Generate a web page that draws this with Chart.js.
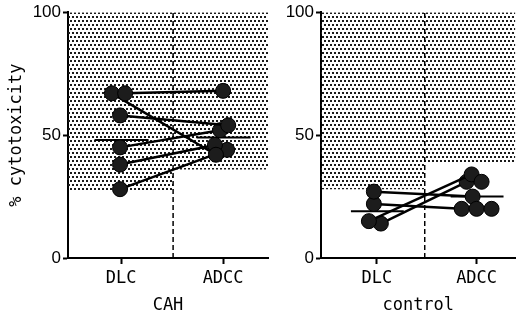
<!DOCTYPE html>
<html><head><meta charset="utf-8">
<script src="https://cdn.jsdelivr.net/npm/chart.js@4.4.0/dist/chart.umd.min.js"></script>
<style>
body{margin:0;background:#fff;width:524px;height:323px;overflow:hidden;position:relative}
.panel{position:absolute;top:0;height:323px}
#p1{left:0;width:278px}
#p2{left:276px;width:248px}
</style></head><body>
<div class="panel" id="p1"><canvas id="cah"></canvas></div>
<div class="panel" id="p2"><canvas id="ctrl"></canvas></div>
<script>
const groups = ['DLC', 'ADCC'];
const yTicks = [0, 50, 100];

// CAH patients, DLC -> ADCC pairs
const cahDLC  = [67, 67, 58, 45, 38, 28];
const cahADCC = [68, 42, 54, 52, 46, 44];
const cahDLCx  = [1.04, 0.91, 0.99, 0.99, 0.99, 0.99];
const cahADCCx = [2.0, 1.93, 2.05, 1.97, 1.92, 2.04];
const cahMean  = [48, 49];
const cahShade = [27, 36];

// controls
const ctrlDLC  = [27, 22, 15, 14];
const ctrlADCC = [25, 20, 34, 31];
const ctrlDLCx  = [0.97, 0.97, 0.92, 1.04];
const ctrlADCCx = [1.96, 1.85, 1.95, 1.9];
const ctrlExtra  = [31, 20, 20];
const ctrlExtraX = [2.05, 2.0, 2.15];
const ctrlMean  = [19, 25];
const ctrlShade = [28, 39];

// stipple pattern
const tile = document.createElement('canvas');
tile.width = 4; tile.height = 8;
const tc = tile.getContext('2d');
tc.fillStyle = '#1a1a1a';
tc.fillRect(0, 0, 2, 2);
tc.fillRect(2, 4, 2, 2);
const stipple = tc.createPattern(tile, 'repeat');

const monoFont = {family: 'DejaVu Sans Mono', size: 17};
const numFont = {family: 'Liberation Sans', size: 17};

function makeChart(id, o) {
    const sets = [];
    sets.push({
        type: 'line', order: 10,
        data: [{x: o.xmin, y: o.shade[0]}, {x: o.div, y: o.shade[0]}, {x: o.div, y: o.shade[1]}, {x: o.xmax, y: o.shade[1]}],
        fill: 'end', backgroundColor: stipple, borderWidth: 0, pointRadius: 0
    });
    sets.push({
        type: 'line', order: 9,
        data: [{x: o.div, y: 0}, {x: o.div, y: 100}],
        borderColor: '#000', borderWidth: 1.5, borderDash: [5, 3], pointRadius: 0
    });
    o.mean.forEach((m, i) => {
        sets.push({
            type: 'line', order: 6,
            data: [{x: i + 1 - 0.26, y: m}, {x: i + 1 + 0.27, y: m}],
            borderColor: '#000', borderWidth: 2, pointRadius: 0
        });
    });
    o.dlc.forEach((v, i) => {
        sets.push({
            type: 'line', order: 2,
            data: [{x: o.dlcX[i], y: v}, {x: o.adccX[i], y: o.adcc[i]}],
            borderColor: '#000', borderWidth: 2.5,
            pointRadius: 7.5, pointBackgroundColor: '#1c1c1c', pointBorderColor: '#000', pointBorderWidth: 1
        });
    });
    if (o.extra) {
        sets.push({
            type: 'scatter', order: 1,
            data: o.extra.map((v, i) => ({x: o.extraX[i], y: v})),
            pointRadius: 7.5, pointBackgroundColor: '#1c1c1c', pointBorderColor: '#000', pointBorderWidth: 1
        });
    }

    return new Chart(document.getElementById(id), {
        type: 'scatter',
        data: {datasets: sets},
        options: {
            responsive: true,
            maintainAspectRatio: false,
            animation: false,
            layout: {padding: {top: 12, right: o.padRight, left: 0, bottom: 0}},
            plugins: {legend: {display: false}, tooltip: {enabled: false}},
            scales: {
                x: {
                    type: 'linear', min: o.xmin, max: o.xmax,
                    afterBuildTicks: s => { s.ticks = groups.map((g, i) => ({value: i + 1})); },
                    afterFit: s => { s.height = 65; },
                    ticks: {callback: v => groups[v - 1], color: '#000', font: {family: 'DejaVu Sans Mono', size: 17}, padding: 4, autoSkip: false, maxRotation: 0},
                    grid: {drawOnChartArea: false, drawTicks: true, tickLength: 6, tickWidth: 2, tickColor: '#000'},
                    border: {display: true, color: '#000', width: 2},
                    title: {display: true, text: o.title, color: '#000', font: {family: 'DejaVu Sans Mono', size: 17}, padding: {top: 4, bottom: 7}}
                },
                y: {
                    min: 0, max: 100,
                    afterBuildTicks: s => { s.ticks = yTicks.map(v => ({value: v})); },
                    afterFit: s => { s.width = o.yWidth; },
                    ticks: {color: '#000', font: numFont, padding: 2},
                    grid: {drawOnChartArea: false, drawTicks: true, tickLength: 5, tickWidth: 2, tickColor: '#000'},
                    border: {display: true, color: '#000', width: 2},
                    title: {display: o.yTitle != null, text: o.yTitle, color: '#000', font: monoFont, padding: {top: 6, bottom: 0}}
                }
            }
        }
    });
}

makeChart('cah', {
    dlc: cahDLC, adcc: cahADCC, dlcX: cahDLCx, adccX: cahADCCx,
    mean: cahMean, shade: cahShade, title: 'CAH', yTitle: '% cytotoxicity',
    xmin: 0.48, xmax: 2.44, div: 1.51, yWidth: 68, padRight: 10
});
makeChart('ctrl', {
    dlc: ctrlDLC, adcc: ctrlADCC, dlcX: ctrlDLCx, adccX: ctrlADCCx,
    extra: ctrlExtra, extraX: ctrlExtraX,
    mean: ctrlMean, shade: ctrlShade, title: 'control', yTitle: null,
    xmin: 0.44, xmax: 2.39, div: 1.48, yWidth: 45, padRight: 4
});
</script>
</body></html>
